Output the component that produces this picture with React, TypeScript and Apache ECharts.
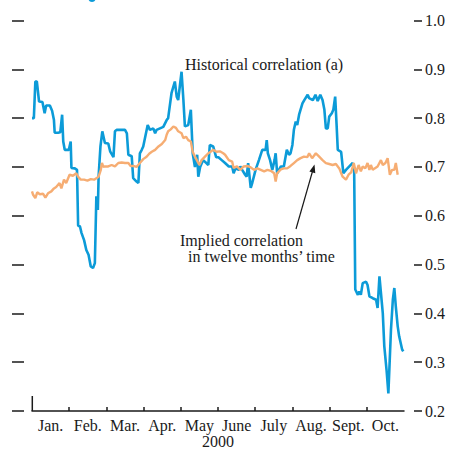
import React, { useEffect, useRef } from "react";
import * as echarts from "echarts";

const months = ["Jan.", "Feb.", "Mar.", "Apr.", "May", "June", "July", "Aug.", "Sept.", "Oct."];
const yearLabel = "2000";
const historicalLabel = "Historical correlation (a)";
const impliedLabel1 = "Implied correlation";
const impliedLabel2 = "in twelve months\u2019 time";

// x positions in months since start of January
const histPos = [
  0.0, 0.05, 0.09, 0.13, 0.19, 0.28, 0.34, 0.38, 0.48, 0.54, 0.59, 0.61, 0.7, 0.76, 0.81, 0.84, 0.88, 0.99,
  1.04, 1.06, 1.15, 1.21, 1.24, 1.29, 1.33, 1.4, 1.46, 1.52, 1.58, 1.64, 1.69, 1.73, 1.77, 1.79, 1.84, 1.89,
  1.96, 2.05, 2.1, 2.19, 2.23, 2.28, 2.5, 2.55, 2.59, 2.68, 2.72, 2.81, 2.86, 2.9, 2.95, 2.99, 3.11, 3.17,
  3.26, 3.31, 3.35, 3.44, 3.53, 3.62, 3.66, 3.75, 3.84, 3.89, 3.93, 4.02, 4.07, 4.11, 4.2, 4.27, 4.32, 4.38,
  4.44, 4.47, 4.52, 4.6, 4.7, 4.74, 4.78, 4.87, 4.95, 5.01, 5.1, 5.19, 5.29, 5.38, 5.42, 5.47, 5.56, 5.6,
  5.65, 5.73, 5.77, 5.81, 5.88, 5.92, 6.01, 6.1, 6.19, 6.28, 6.31, 6.34, 6.4, 6.46, 6.52, 6.55, 6.59, 6.64,
  6.69, 6.77, 6.85, 6.91, 6.95, 7.0, 7.04, 7.09, 7.13, 7.18, 7.27, 7.32, 7.41, 7.45, 7.55, 7.62, 7.68, 7.75,
  7.81, 7.86, 7.9, 7.95, 7.99, 8.06, 8.1, 8.15, 8.19, 8.22, 8.31, 8.37, 8.44, 8.53, 8.62, 8.66, 8.69, 8.76,
  8.8, 8.84, 8.89, 8.98, 9.02, 9.07, 9.16, 9.25, 9.29, 9.34, 9.38, 9.43, 9.47, 9.53, 9.58, 9.65, 9.7, 9.74,
  9.78, 9.83, 9.87, 9.95, 9.98
];
const histVal = [
  0.8, 0.8, 0.875, 0.875, 0.834, 0.833, 0.81, 0.826, 0.826, 0.815, 0.796, 0.77, 0.77, 0.771, 0.807, 0.752, 0.735, 0.735,
  0.752, 0.698, 0.697, 0.694, 0.58, 0.578, 0.565, 0.55, 0.53, 0.52, 0.496, 0.493, 0.503, 0.64, 0.612, 0.68, 0.742, 0.773,
  0.749, 0.748, 0.732, 0.72, 0.773, 0.776, 0.776, 0.769, 0.725, 0.722, 0.677, 0.67, 0.667, 0.728, 0.735, 0.742, 0.786, 0.776,
  0.779, 0.769, 0.776, 0.779, 0.782, 0.796, 0.8, 0.851, 0.875, 0.844, 0.837, 0.895, 0.837, 0.783, 0.786, 0.817, 0.728, 0.7,
  0.725, 0.68, 0.7, 0.714, 0.707, 0.704, 0.745, 0.742, 0.72, 0.72, 0.714, 0.708, 0.701, 0.701, 0.687, 0.697, 0.694, 0.701,
  0.694, 0.684, 0.68, 0.708, 0.657, 0.667, 0.694, 0.714, 0.735, 0.735, 0.755, 0.728, 0.714, 0.694, 0.714, 0.728, 0.687, 0.694,
  0.701, 0.701, 0.735, 0.725, 0.728, 0.745, 0.776, 0.793, 0.786, 0.807, 0.83, 0.837, 0.848, 0.841, 0.837, 0.848, 0.835, 0.848,
  0.837, 0.817, 0.779, 0.779, 0.803, 0.81, 0.817, 0.844, 0.783, 0.735, 0.731, 0.687, 0.694, 0.701, 0.708, 0.697, 0.449, 0.438,
  0.445, 0.438, 0.462, 0.465, 0.458, 0.435, 0.431, 0.428, 0.411, 0.476, 0.442, 0.4, 0.333, 0.285, 0.236, 0.367, 0.428, 0.452,
  0.414, 0.374, 0.353, 0.326, 0.322
];

const implPos = [
  0.0, 0.03, 0.09, 0.14, 0.21, 0.3, 0.36, 0.43, 0.52, 0.59, 0.65, 0.74, 0.79, 0.86, 0.92, 1.01, 1.1, 1.19,
  1.24, 1.31, 1.4, 1.49, 1.58, 1.67, 1.73, 1.79, 1.85, 1.88, 1.92, 1.96, 2.05, 2.14, 2.23, 2.32, 2.41, 2.5,
  2.59, 2.65, 2.72, 2.81, 2.9, 2.99, 3.08, 3.15, 3.22, 3.31, 3.4, 3.49, 3.58, 3.62, 3.66, 3.73, 3.8, 3.87,
  3.93, 4.02, 4.07, 4.14, 4.2, 4.27, 4.32, 4.38, 4.43, 4.5, 4.56, 4.65, 4.74, 4.8, 4.87, 4.96, 5.05, 5.14,
  5.19, 5.29, 5.38, 5.42, 5.51, 5.6, 5.69, 5.79, 5.88, 5.97, 6.06, 6.15, 6.24, 6.33, 6.42, 6.51, 6.55, 6.59,
  6.69, 6.77, 6.86, 6.95, 7.04, 7.13, 7.22, 7.31, 7.4, 7.45, 7.53, 7.63, 7.72, 7.81, 7.9, 7.99, 8.08, 8.17,
  8.26, 8.35, 8.44, 8.51, 8.58, 8.65, 8.71, 8.78, 8.84, 8.89, 8.96, 9.02, 9.07, 9.11, 9.16, 9.21, 9.29, 9.38,
  9.43, 9.5, 9.56, 9.62, 9.68, 9.74, 9.78, 9.83
];
const implVal = [
  0.65, 0.643, 0.636, 0.648, 0.644, 0.645, 0.637, 0.646, 0.65, 0.656, 0.659, 0.667, 0.656, 0.674, 0.667, 0.684, 0.682, 0.687,
  0.68, 0.674, 0.674, 0.672, 0.675, 0.674, 0.677, 0.68, 0.694, 0.708, 0.7, 0.701, 0.701, 0.704, 0.701, 0.708, 0.709, 0.708,
  0.708, 0.702, 0.702, 0.7, 0.708, 0.716, 0.721, 0.727, 0.731, 0.735, 0.742, 0.747, 0.755, 0.766, 0.773, 0.777, 0.783, 0.78,
  0.773, 0.769, 0.759, 0.762, 0.755, 0.752, 0.731, 0.721, 0.714, 0.704, 0.714, 0.721, 0.728, 0.731, 0.735, 0.731, 0.732, 0.728,
  0.725, 0.714, 0.711, 0.698, 0.701, 0.694, 0.701, 0.702, 0.699, 0.694, 0.697, 0.694, 0.691, 0.694, 0.692, 0.687, 0.67, 0.687,
  0.695, 0.697, 0.697, 0.702, 0.708, 0.714, 0.718, 0.721, 0.72, 0.728, 0.718, 0.728, 0.721, 0.714, 0.708, 0.706, 0.704, 0.706,
  0.697, 0.68, 0.674, 0.684, 0.689, 0.708, 0.687, 0.704, 0.691, 0.701, 0.697, 0.708, 0.694, 0.704, 0.694, 0.697, 0.701, 0.714,
  0.704, 0.708, 0.718, 0.684, 0.694, 0.694, 0.708, 0.684
];

const FONT = "'Liberation Serif', 'Times New Roman', serif";
const INK = "#1a1a1a";
const BLUE = "#0C9BD8";
const ORANGE = "#F6AD73";

export default function App() {
  const ref = useRef<HTMLDivElement>(null);

  useEffect(() => {
    const chart = echarts.init(ref.current as HTMLDivElement, null, { renderer: "svg" });
    const tickStyle = { color: INK, width: 1.5 };
    chart.setOption({
      animation: false,
      backgroundColor: "#ffffff",
      grid: { left: 32, right: 48, top: 20.5, bottom: 39 },
      xAxis: {
        type: "value",
        min: 0,
        max: 10,
        interval: 1,
        axisLine: { show: true, onZero: false, lineStyle: { color: INK, width: 1.5 } },
        axisTick: {
          show: true,
          inside: true,
          length: 4,
          customValues: [1, 2, 3, 4, 5, 6, 7, 8, 9],
          lineStyle: tickStyle
        },
        axisLabel: {
          customValues: months.map((_, i) => i + 0.5),
          formatter: (v: number) => months[Math.floor(v)] ?? "",
          margin: 6,
          fontFamily: FONT,
          fontSize: 16,
          color: INK
        },
        splitLine: { show: false }
      },
      yAxis: [
        {
          type: "value",
          min: 0.2,
          max: 1.0,
          interval: 0.1,
          position: "right",
          offset: 10,
          axisLine: { show: false, onZero: false },
          axisTick: { show: true, length: 8, lineStyle: tickStyle },
          axisLabel: {
            margin: 11,
            formatter: (v: number) => v.toFixed(1),
            fontFamily: FONT,
            fontSize: 16,
            color: INK
          },
          splitLine: { show: false }
        },
        {
          type: "value",
          min: 0.2,
          max: 1.0,
          interval: 0.1,
          position: "left",
          offset: 8,
          axisLine: { show: false, onZero: false },
          axisTick: { show: true, length: 12, lineStyle: tickStyle },
          axisLabel: { show: false },
          splitLine: { show: false }
        }
      ],
      series: [
        {
          type: "line",
          name: "Historical correlation",
          data: histPos.map((x, i) => [x, histVal[i]]),
          showSymbol: false,
          lineStyle: { color: BLUE, width: 2.6 },
          itemStyle: { color: BLUE },
          z: 2
        },
        {
          type: "line",
          name: "Implied correlation",
          data: implPos.map((x, i) => [x, implVal[i]]),
          showSymbol: false,
          lineStyle: { color: ORANGE, width: 2.4 },
          itemStyle: { color: ORANGE },
          z: 3
        }
      ],
      graphic: [
        {
          type: "line",
          shape: { x1: 32.3, y1: 396, x2: 32.3, y2: 411 },
          style: { stroke: INK, lineWidth: 1.5 }
        },
        {
          type: "text",
          x: 185,
          y: 64,
          style: { text: historicalLabel, font: `16px ${FONT}`, fill: INK, textVerticalAlign: "middle" }
        },
        {
          type: "text",
          x: 180,
          y: 240,
          style: { text: impliedLabel1, font: `16px ${FONT}`, fill: INK, textVerticalAlign: "middle" }
        },
        {
          type: "text",
          x: 188,
          y: 256,
          style: { text: impliedLabel2, font: `16px ${FONT}`, fill: INK, textVerticalAlign: "middle" }
        },
        {
          type: "line",
          shape: { x1: 296, y1: 229, x2: 312.6, y2: 171 },
          style: { stroke: INK, lineWidth: 1.2 }
        },
        {
          type: "polygon",
          shape: { points: [[314.5, 164.5], [315.3, 173.2], [309.4, 171.5]] },
          style: { fill: INK }
        },
        {
          type: "text",
          x: 218,
          y: 441,
          style: { text: yearLabel, font: `16px ${FONT}`, fill: INK, textAlign: "center", textVerticalAlign: "middle" }
        },
        {
          type: "ellipse",
          shape: { cx: 92, cy: -1, rx: 3.5, ry: 3 },
          style: { fill: BLUE }
        }
      ]
    });
    return () => chart.dispose();
  }, []);

  return (
    <div
      ref={ref}
      style={{ position: "fixed", left: 0, top: 0, width: 452, height: 450, background: "#fff" }}
    />
  );
}
